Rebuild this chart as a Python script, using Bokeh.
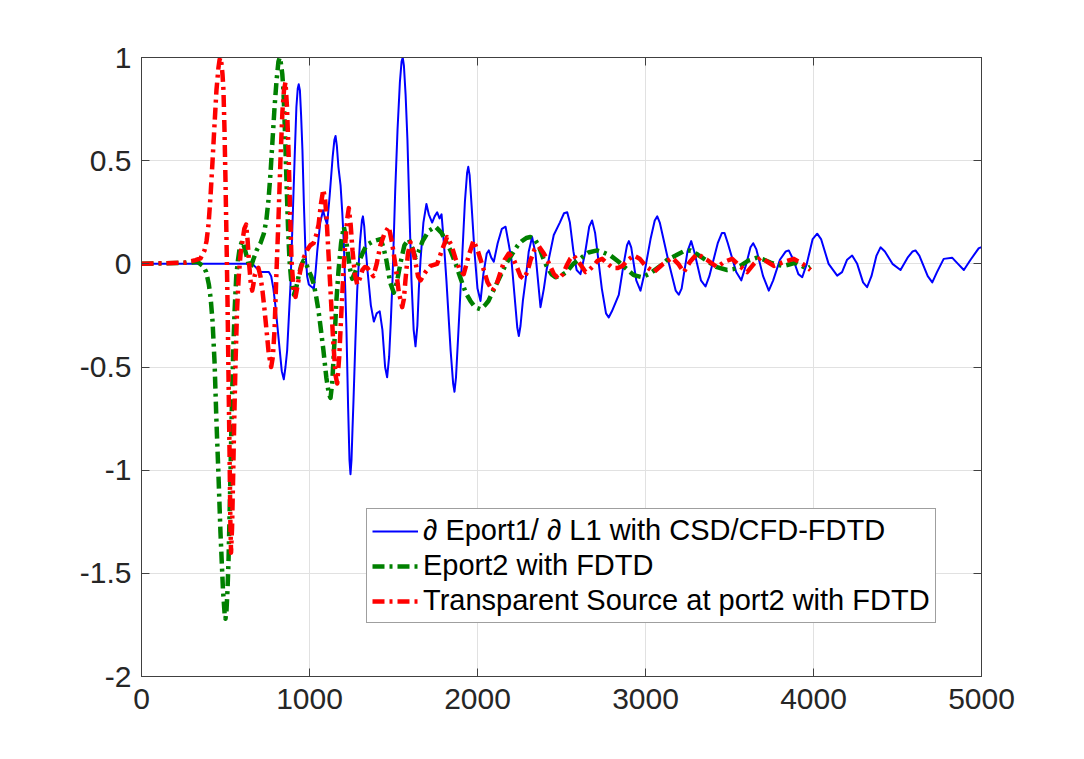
from bokeh.plotting import figure
from bokeh.models import (Range1d, LinearAxis, FixedTicker, CustomJSTickFormatter,
                          Legend, LegendItem)
from bokeh.embed import file_html
from bokeh.resources import INLINE

# ---------------- data ----------------
x_ticks = [0, 1000, 2000, 3000, 4000, 5000]
y_ticks = [-2, -1.5, -1, -0.5, 0, 0.5, 1]

labels = ["\u2202 Eport1/ \u2202 L1 with CSD/CFD-FDTD",
          "Eport2 with FDTD",
          "Transparent Source at port2 with FDTD"]

blue_x = [0, 659, 685, 708, 758, 772, 785, 798, 817, 835, 847, 857, 867, 877, 887,
          899, 911, 922, 930, 936, 943, 950, 958, 967, 976, 986, 996, 1010, 1026,
          1036, 1046, 1064, 1081, 1093, 1105, 1120, 1138, 1148, 1155, 1163, 1172,
          1185, 1195, 1204, 1212, 1220, 1230, 1238, 1244, 1250, 1256, 1262, 1273,
          1284, 1300, 1312, 1318, 1326, 1335, 1345, 1365, 1383, 1400, 1418, 1434,
          1450, 1462, 1474, 1484, 1494, 1510, 1524, 1538, 1548, 1555, 1562, 1572,
          1583, 1595, 1607, 1620, 1631, 1642, 1651, 1661, 1678, 1696, 1710, 1730,
          1745, 1760, 1774, 1786, 1800, 1815, 1840, 1855, 1863, 1872, 1885, 1905,
          1925, 1938, 1945, 1953, 1965, 1982, 2000, 2018, 2035, 2055, 2067, 2082,
          2097, 2120, 2145, 2167, 2185, 2202, 2220, 2237, 2246, 2256, 2270, 2286,
          2305, 2325, 2345, 2375, 2395, 2411, 2454, 2490, 2515, 2534, 2550, 2571,
          2590, 2613, 2640, 2665, 2682, 2700, 2740, 2765, 2781, 2800, 2841, 2870,
          2890, 2901, 2915, 2945, 2970, 2990, 3030, 3055, 3070, 3085, 3140, 3180,
          3198, 3215, 3250, 3272, 3290, 3330, 3357, 3380, 3430, 3455, 3470, 3490,
          3540, 3570, 3600, 3625, 3641, 3660, 3700, 3734, 3760, 3800, 3835, 3853,
          3880, 3910, 3933, 3960, 3995, 4022, 4045, 4090, 4141, 4170, 4200, 4230,
          4260, 4295, 4319, 4345, 4375, 4399, 4425, 4470, 4518, 4560, 4590, 4607,
          4630, 4680, 4707, 4735, 4775, 4825, 4860, 4895, 4935, 4984, 5000]
blue_y = [0, 0, -0.02, -0.04, -0.04, -0.06, -0.12, -0.21, -0.37, -0.52, -0.56, -0.50,
          -0.42, -0.26, -0.10, 0.20, 0.50, 0.76, 0.85, 0.87, 0.84, 0.72, 0.55, 0.28,
          0.06, -0.06, -0.10, -0.11, -0.12, -0.04, 0.06, 0.20, 0.26, 0.22, 0.19, 0.33,
          0.52, 0.60, 0.62, 0.57, 0.47, 0.38, 0.25, 0.11, -0.10, -0.32, -0.70, -0.95,
          -1.02, -0.95, -0.80, -0.66, -0.38, -0.13, 0.10, 0.21, 0.23, 0.18, 0.07,
          -0.03, -0.20, -0.28, -0.24, -0.23, -0.32, -0.50, -0.55, -0.45, -0.28, -0.08,
          0.35, 0.65, 0.88, 0.98, 1.0, 0.96, 0.82, 0.60, 0.25, -0.08, -0.32, -0.40,
          -0.30, -0.12, 0.02, 0.20, 0.29, 0.24, 0.20, 0.23, 0.25, 0.22, 0.24, 0.10,
          -0.08, -0.42, -0.58, -0.62, -0.55, -0.35, -0.03, 0.30, 0.44, 0.47, 0.43,
          0.28, 0.06, -0.12, -0.18, -0.05, 0.05, 0.065, 0.03, 0.01, 0.10, 0.17, 0.18,
          0.10, 0.02, -0.15, -0.31, -0.35, -0.30, -0.18, -0.08, 0.06, 0.13, 0.05,
          -0.21, -0.12, -0.03, 0.14, 0.20, 0.245, 0.25, 0.20, 0.06, -0.03, -0.05,
          0.05, 0.18, 0.21, 0.15, -0.12, -0.24, -0.26, -0.23, -0.15, 0.0, 0.09, 0.11,
          0.08, -0.08, -0.13, -0.06, 0.12, 0.21, 0.23, 0.20, 0.0, -0.13, -0.15, -0.12,
          0.06, 0.11, 0.06, -0.08, -0.11, -0.06, 0.10, 0.15, 0.15, 0.10, -0.04, -0.08,
          0.0, 0.08, 0.10, 0.07, -0.06, -0.13, -0.08, 0.02, 0.06, 0.065, 0.02, -0.05,
          -0.065, 0.0, 0.12, 0.146, 0.12, 0.0, -0.057, -0.04, 0.02, 0.04, 0.0, -0.09,
          -0.113, -0.06, 0.04, 0.08, 0.06, 0.0, -0.03, 0.03, 0.06, 0.065, 0.04, -0.06,
          -0.09, -0.04, 0.024, 0.03, 0.0, -0.03, 0.02, 0.076, 0.08]

green_x = [0, 292, 333, 369, 385, 401, 412, 423, 435, 446, 458, 470, 485, 495, 500,
           506, 512, 518, 527, 536, 545, 554, 564, 574, 585, 599, 612, 625, 637, 649,
           665, 685, 708, 728, 743, 756, 768, 780, 792, 804, 815, 823, 830, 838, 845,
           854, 863, 872, 881, 893, 907, 920, 935, 950, 964, 980, 994, 1010, 1026,
           1040, 1054, 1068, 1083, 1100, 1115, 1125, 1135, 1149, 1160, 1173, 1188,
           1204, 1215, 1226, 1240, 1254, 1272, 1292, 1315, 1339, 1380, 1423, 1440,
           1458, 1480, 1502, 1520, 1542, 1565, 1591, 1610, 1631, 1650, 1673, 1710,
           1750, 1786, 1839, 1870, 1899, 1930, 1958, 1985, 2018, 2045, 2065, 2100,
           2137, 2170, 2208, 2240, 2268, 2290, 2315, 2340, 2363, 2390, 2411, 2440,
           2464, 2500, 2530, 2570, 2613, 2660, 2712, 2750, 2792, 2840, 2881, 2930,
           2980, 3030, 3089, 3130, 3179, 3225, 3268, 3310, 3363, 3420, 3486, 3525,
           3565, 3610, 3664, 3705, 3744, 3785, 3823, 3860, 3893, 3930, 3962, 3982]
green_y = [0, 0.006, 0.01, -0.013, -0.04, -0.10, -0.17, -0.28, -0.48, -0.76, -1.02,
           -1.30, -1.58, -1.70, -1.72, -1.68, -1.58, -1.44, -1.12, -0.76, -0.45,
           -0.23, -0.06, 0.016, 0.08, 0.11, 0.08, 0.04, 0.0, -0.02, 0.02, 0.065, 0.10,
           0.146, 0.21, 0.31, 0.44, 0.60, 0.76, 0.89, 0.98, 1.0, 0.97, 0.92, 0.84,
           0.64, 0.40, 0.18, 0.016, -0.10, -0.15, -0.12, -0.06, -0.01, 0.016, 0.0,
           -0.03, -0.06, -0.10, -0.16, -0.23, -0.32, -0.42, -0.55, -0.63, -0.65,
           -0.58, -0.37, -0.18, -0.03, 0.10, 0.18, 0.14, 0.065, -0.02, -0.073, -0.04,
           0.006, 0.05, 0.09, 0.11, 0.12, 0.08, 0.016, -0.09, -0.14, -0.09, 0.006,
           0.09, 0.12, 0.08, 0.03, 0.06, 0.11, 0.16, 0.18, 0.15, 0.065, 0.0, -0.07,
           -0.14, -0.18, -0.21, -0.22, -0.20, -0.18, -0.12, -0.057, 0.0, 0.05, 0.09,
           0.113, 0.125, 0.13, 0.12, 0.09, 0.03, -0.01, -0.05, -0.065, -0.055, -0.04,
           0.0, 0.026, 0.055, 0.065, 0.055, 0.04, 0.01, -0.02, -0.055, -0.065, -0.045,
           -0.01, 0.02, 0.04, 0.06, 0.065, 0.045, 0.016, -0.015, -0.03, -0.025, -0.01,
           0.015, 0.03, 0.02, 0.006, -0.005, -0.01, -0.002, 0.006, -0.01, -0.024,
           -0.013]

red_x = [0, 262, 321, 351, 375, 387, 399, 411, 423, 435, 446, 458, 465, 470, 476, 482,
         488, 494, 500, 506, 512, 518, 524, 529, 533, 539, 545, 552, 560, 569, 579,
         590, 601, 612, 623, 632, 640, 650, 659, 666, 673, 685, 696, 708, 720, 732,
         744, 758, 772, 782, 792, 803, 815, 827, 839, 848, 857, 866, 875, 884, 893,
         905, 917, 930, 946, 966, 988, 1005, 1024, 1040, 1054, 1068, 1082, 1092,
         1101, 1113, 1125, 1140, 1155, 1165, 1177, 1190, 1202, 1214, 1225, 1234,
         1245, 1256, 1270, 1284, 1300, 1315, 1330, 1345, 1362, 1380, 1400, 1422,
         1448, 1472, 1492, 1512, 1532, 1552, 1562, 1571, 1586, 1601, 1616, 1631,
         1646, 1661, 1690, 1720, 1760, 1790, 1819, 1845, 1869, 1895, 1918, 1948,
         1976, 2003, 2030, 2060, 2089, 2113, 2137, 2162, 2186, 2210, 2232, 2256,
         2276, 2296, 2315, 2340, 2365, 2395, 2423, 2455, 2484, 2508, 2530, 2552,
         2573, 2610, 2643, 2665, 2690, 2715, 2742, 2775, 2804, 2835, 2863, 2897,
         2930, 2965, 3000, 3050, 3105, 3159, 3195, 3228, 3265, 3307, 3365, 3426,
         3470, 3516, 3560, 3605, 3645, 3685, 3725, 3764, 3825, 3883, 3935, 3982]
red_y = [0, 0.006, 0.018, 0.026, 0.065, 0.11, 0.19, 0.33, 0.50, 0.68, 0.84, 0.95,
         0.99, 1.0, 0.97, 0.92, 0.84, 0.65, 0.40, 0.12, -0.18, -0.55, -0.91, -1.25,
         -1.40, -1.28, -1.05, -0.76, -0.47, -0.22, -0.06, 0.05, 0.11, 0.17, 0.19,
         0.11, 0.006, -0.09, -0.13, -0.10, -0.06, -0.03, -0.02, -0.06, -0.13, -0.22,
         -0.32, -0.44, -0.50, -0.45, -0.32, -0.05, 0.21, 0.50, 0.74, 0.84, 0.88, 0.76,
         0.55, 0.27, 0.016, -0.12, -0.16, -0.10, -0.03, 0.03, 0.07, 0.09, 0.10, 0.14,
         0.19, 0.29, 0.36, 0.32, 0.23, 0.05, -0.13, -0.36, -0.54, -0.58, -0.45,
         -0.23, -0.04, 0.11, 0.22, 0.27, 0.19, 0.065, -0.05, -0.10, -0.07, -0.03,
         -0.015, -0.02, -0.04, -0.06, 0.0, 0.09, 0.15, 0.18, 0.10, -0.01, -0.14,
         -0.21, -0.17, -0.08, 0.05, 0.105, 0.07, 0.006, -0.06, -0.08, -0.04, -0.01,
         0.0, 0.07, 0.13, 0.09, 0.026, -0.03, -0.05, 0.04, 0.113, 0.06, -0.01, -0.09,
         -0.13, -0.10, -0.04, 0.02, 0.05, 0.03, -0.01, -0.06, -0.073, -0.04, 0.016,
         0.07, 0.085, 0.05, 0.006, -0.05, -0.073, -0.05, -0.01, 0.025, 0.04, 0.0,
         -0.04, -0.03, -0.01, 0.015, 0.024, 0.0, -0.02, -0.02, -0.01, 0.02, 0.04,
         0.025, -0.01, -0.04, 0.0, 0.03, 0.0, -0.04, 0.01, 0.049, 0.02, -0.016, 0.01,
         0.024, -0.01, -0.04, 0.0, 0.03, 0.01, -0.01, 0.01, 0.024, 0.0, -0.03]

# ---------------- figure ----------------
FONT = "Liberation Sans"
AX = "#404040"
TXT = "#262626"

p = figure(width=1084, height=759, output_backend="svg", toolbar_location=None,
           x_range=Range1d(0, 5000), y_range=Range1d(-2, 1),
           min_border_left=141, min_border_right=103,
           min_border_top=57, min_border_bottom=83,
           background_fill_color="white", border_fill_color="white")
p.outline_line_color = AX
p.outline_line_width = 1

fmt = CustomJSTickFormatter(code="return tick.toString();")
blank = CustomJSTickFormatter(code="return '';")

for ax in (p.xaxis[0], p.yaxis[0]):
    ax.formatter = fmt
    ax.axis_line_color = AX
    ax.major_tick_line_color = AX
    ax.major_tick_in = 8
    ax.major_tick_out = 0
    ax.minor_tick_line_color = None
    ax.major_label_text_font = FONT
    ax.major_label_text_font_size = "30px"
    ax.major_label_text_color = TXT
p.xaxis[0].ticker = FixedTicker(ticks=x_ticks)
p.yaxis[0].ticker = FixedTicker(ticks=y_ticks)
p.xaxis[0].major_label_standoff = 12
p.yaxis[0].major_label_standoff = 10

top = LinearAxis(ticker=FixedTicker(ticks=x_ticks), formatter=blank)
right = LinearAxis(ticker=FixedTicker(ticks=y_ticks), formatter=blank)
for ax in (top, right):
    ax.axis_line_color = AX
    ax.major_tick_line_color = AX
    ax.major_tick_in = 8
    ax.major_tick_out = 0
    ax.minor_tick_line_color = None
    ax.major_label_text_font_size = "0px"
    ax.major_label_standoff = 0
p.add_layout(top, "above")
p.add_layout(right, "right")

p.xgrid.ticker = FixedTicker(ticks=x_ticks)
p.ygrid.ticker = FixedTicker(ticks=y_ticks)
p.xgrid.grid_line_color = "#e1e1e1"
p.ygrid.grid_line_color = "#e1e1e1"

rb = p.line(blue_x, blue_y, line_color="#0000ff", line_width=2, line_join="round")
rg = p.line(green_x, green_y, line_color="#008000", line_width=4.5,
            line_dash="12 5 3 5", line_join="round")
rr = p.line(red_x, red_y, line_color="#ff0000", line_width=4.5,
            line_dash="12 5 3 5", line_join="round")

legend = Legend(items=[LegendItem(label=labels[0], renderers=[rb]),
                       LegendItem(label=labels[1], renderers=[rg]),
                       LegendItem(label=labels[2], renderers=[rr])],
                location=(225, 53))
legend.label_text_font = FONT
legend.label_text_font_size = "29px"
legend.label_text_color = "black"
legend.glyph_width = 46
legend.glyph_height = 30
legend.label_height = 30
legend.label_standoff = 5
legend.spacing = 2
legend.padding = 5
legend.margin = 0
legend.border_line_color = AX
legend.border_line_width = 1
legend.background_fill_color = "white"
legend.background_fill_alpha = 1
p.add_layout(legend, "center")

open("out.html", "w").write(file_html(p, INLINE))
